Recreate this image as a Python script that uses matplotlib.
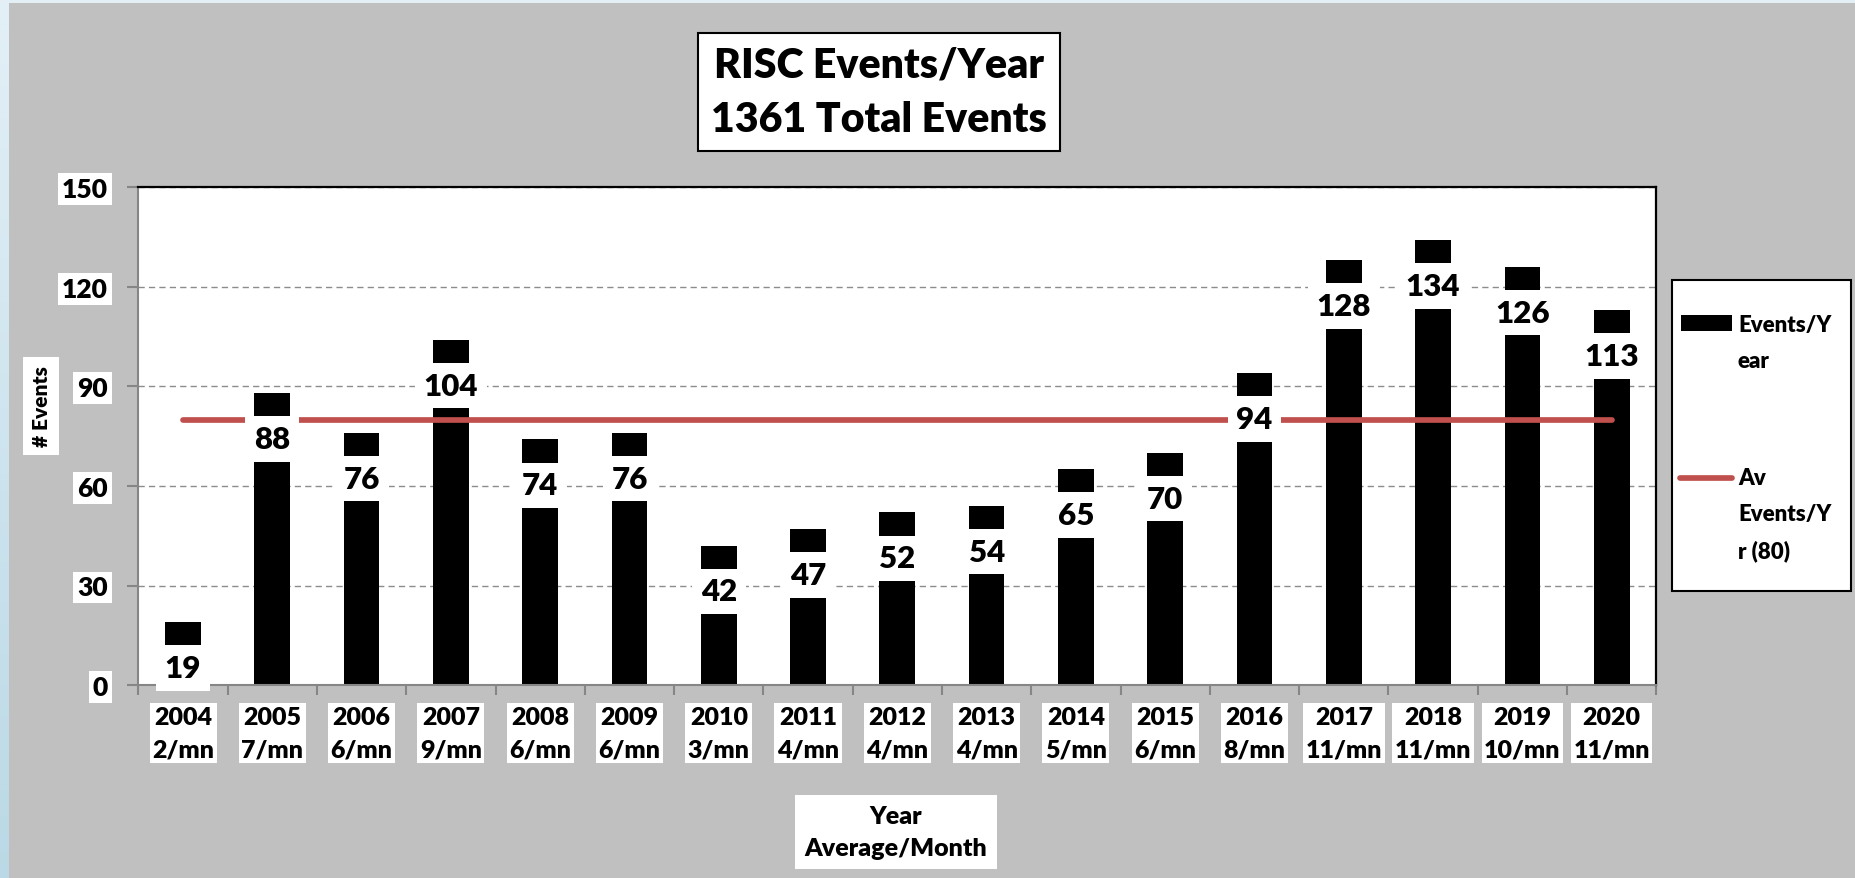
import matplotlib
matplotlib.use("Agg")
import matplotlib.pyplot as plt
import numpy as np
from matplotlib.patches import Rectangle
from matplotlib.lines import Line2D

# ---------------- data ----------------
years = ["2004", "2005", "2006", "2007", "2008", "2009", "2010", "2011", "2012",
         "2013", "2014", "2015", "2016", "2017", "2018", "2019", "2020"]
per_month = ["2/mn", "7/mn", "6/mn", "9/mn", "6/mn", "6/mn", "3/mn", "4/mn", "4/mn",
             "4/mn", "5/mn", "6/mn", "8/mn", "11/mn", "11/mn", "10/mn", "11/mn"]
events = [19, 88, 76, 104, 74, 76, 42, 47, 52, 54, 65, 70, 94, 128, 134, 126, 113]
average = 80
title_text = "RISC Events/Year\n1361 Total Events"
y_ticks = [0, 30, 60, 90, 120, 150]
series_label = "Events/Y\near"
avg_label = "Av\nEvents/Y\nr (80)"
x_title = "Year\nAverage/Month"
y_title = "# Events"

# ---------------- style ----------------
WEIGHT = 'heavy'
plt.rcParams['font.family'] = ['Lato', 'DejaVu Sans']
plt.rcParams['font.weight'] = WEIGHT

W, H = 1855, 879
fig = plt.figure(figsize=(W / 100, H / 100), dpi=100)
fig.patch.set_facecolor('#c0c0c0')

# background: light blue strips at left/top
bg = fig.add_axes([0, 0, 1, 1], zorder=-10)
bg.axis('off')
top_c = np.array([0.89, 0.94, 0.97])
bot_c = np.array([0.73, 0.85, 0.90])
grad = np.linspace(0, 1, 200)[:, None, None] * (bot_c - top_c) + top_c
bg.imshow(grad, extent=(0, 9, H, 0), aspect='auto')
bg.add_patch(Rectangle((0, 0), W, 4, color='#e4eef5', lw=0))
bg.set_xlim(0, W)
bg.set_ylim(H, 0)

# main axes
ax = fig.add_axes([138.4 / W, 1 - 686.1 / H, (1656.3 - 138.4) / W, 498 / H])
x = np.arange(len(years))
ax.bar(x, events, width=0.4, color='black', zorder=2)
ax.plot([x[0], x[-1]], [average, average], color='#c0504d', lw=4.1,
        solid_capstyle='round', zorder=3)
for xi, v in zip(x, events):
    ax.annotate(str(v), (xi, v), xytext=(0, -33), textcoords='offset points',
                ha='center', va='center', fontsize=22.5, fontweight=WEIGHT,
                bbox=dict(boxstyle='square,pad=0.28', fc='white', ec='none'),
                zorder=4, annotation_clip=False)

ax.set_xlim(-0.5, len(years) - 0.5)
ax.set_ylim(0, 150)
ax.set_yticks(y_ticks)
ax.yaxis.grid(True, color='#8c8c8c', lw=1.0, ls=(0, (4.5, 3)))
ax.set_axisbelow(True)
ax.tick_params(axis='y', length=8, width=1.5, color='#868686', direction='out',
               pad=14, labelsize=19)
ax.set_xticks(x)
ax.set_xticklabels([f"{a}\n{b}" for a, b in zip(years, per_month)])
ax.set_xticks(np.arange(-0.5, len(years), 1), minor=True)
ax.tick_params(axis='x', which='major', length=0, pad=15, labelsize=18)
ax.tick_params(axis='x', which='minor', length=7.5, width=1.5, color='#868686')
for lbl in ax.get_xticklabels():
    lbl.set_fontweight(WEIGHT)
    lbl.set_linespacing(1.6)
    lbl.set_bbox(dict(fc='white', ec='none', boxstyle='square,pad=0.1'))
for lbl in ax.get_yticklabels():
    lbl.set_fontweight(WEIGHT)
    lbl.set_bbox(dict(fc='white', ec='none', boxstyle='square,pad=0.15'))

for s in ['left', 'bottom']:
    ax.spines[s].set_color('#868686')
    ax.spines[s].set_linewidth(1.5)
for s in ['top', 'right']:
    ax.spines[s].set_color('black')
    ax.spines[s].set_linewidth(1.6)

# overlay in pixel coords for title, axis titles, legend
ov = fig.add_axes([0, 0, 1, 1], zorder=5)
ov.set_xlim(0, W)
ov.set_ylim(H, 0)
ov.axis('off')

ov.text(879, 93, title_text, ha='center', va='center', fontsize=29.5,
        fontweight=WEIGHT, linespacing=1.52,
        bbox=dict(boxstyle='square,pad=0.32', fc='white', ec='black', lw=1.5))
ov.text(896, 833, x_title, ha='center', va='center', fontsize=18,
        fontweight=WEIGHT, linespacing=1.57, multialignment='center',
        bbox=dict(boxstyle='square,pad=0.4', fc='white', ec='none'))
ov.text(41, 407, y_title, ha='center', va='center', fontsize=15, rotation=90,
        fontweight=WEIGHT,
        bbox=dict(boxstyle='square,pad=0.4', fc='white', ec='none'))

# legend
ov.add_patch(Rectangle((1672, 281), 179, 311, fc='white', ec='black', lw=1.5))
ov.add_patch(Rectangle((1681, 316), 51, 16, fc='black', ec='none'))
ov.add_line(Line2D([1680, 1732], [479, 479], color='#c0504d', lw=4.1,
                   solid_capstyle='round'))
for label, y0 in [(series_label, 324), (avg_label, 477)]:
    for i, line in enumerate(label.split('\n')):
        ov.text(1738, y0 + 36 * i, line, ha='left', va='center_baseline',
                fontsize=16, fontweight=WEIGHT)

fig.savefig('out.png', dpi=100, facecolor=fig.get_facecolor())
